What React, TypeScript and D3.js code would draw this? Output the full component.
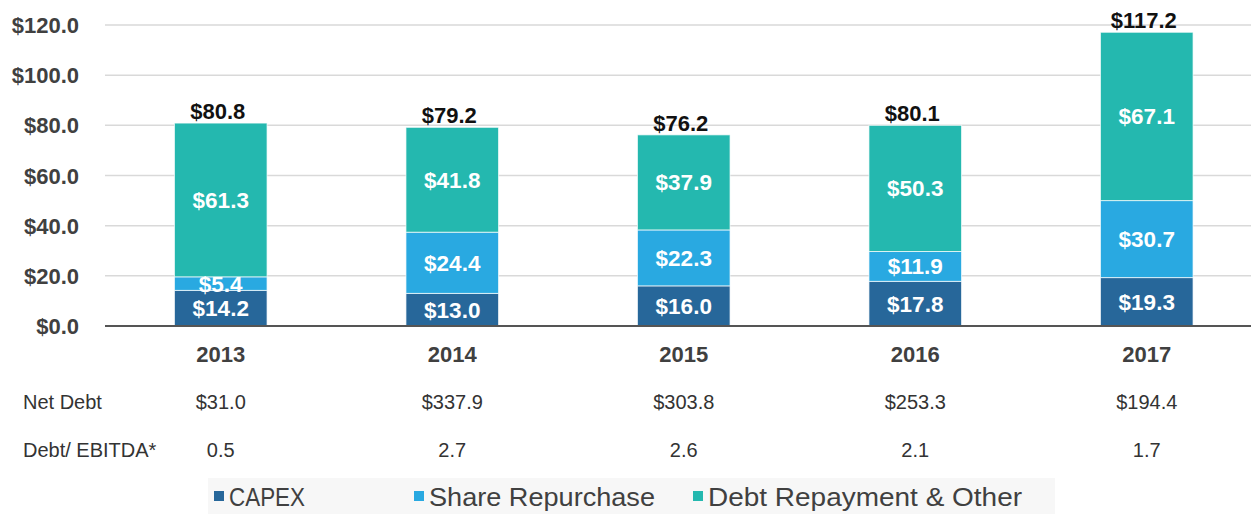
import React from "react";
import * as d3 from "d3";

const years = ["2013", "2014", "2015", "2016", "2017"];
const capex = [14.2, 13.0, 16.0, 17.8, 19.3];
const shareRepurchase = [5.4, 24.4, 22.3, 11.9, 30.7];
const debtRepayment = [61.3, 41.8, 37.9, 50.3, 67.1];
const totals = [80.8, 79.2, 76.2, 80.1, 117.2];
const netDebt = ["$31.0", "$337.9", "$303.8", "$253.3", "$194.4"];
const debtEbitda = ["0.5", "2.7", "2.6", "2.1", "1.7"];
const yTicks = [0, 20, 40, 60, 80, 100, 120];
const seriesNames = ["CAPEX", "Share Repurchase", "Debt Repayment & Other"];
const colors = ["#27679a", "#29a9e1", "#24b8af"];

const W = 1251;
const H = 514;
const FONT = "'Liberation Sans', Arial, sans-serif";

export default function App() {
  const x = d3.scaleBand<string>().domain(years).range([105, 1262.5]).paddingInner(0.6).paddingOuter(0.3);
  const y = d3.scaleLinear().domain([0, 120]).range([326, 25]);

  const rows = years.map((yr, i) => ({ year: yr, capex: capex[i], share: shareRepurchase[i], debt: debtRepayment[i] }));
  const stack = d3.stack<any>().keys(["capex", "share", "debt"])(rows);

  const cx = (yr: string) => (x(yr) as number) + x.bandwidth() / 2;
  const fmt = (v: number) => "$" + v.toFixed(1);

  const legendItems = [
    { name: seriesNames[0], x: 229, w: 76 },
    { name: seriesNames[1], x: 429, w: 226 },
    { name: seriesNames[2], x: 708, w: 314 },
  ];

  return (
    <svg width={W} height={H} style={{ position: "absolute", left: 0, top: 0, background: "#fff" }} fontFamily={FONT}>
      {yTicks.map((t) => (
        <line key={t} x1={105} x2={W} y1={y(t)} y2={y(t)} stroke={t === 0 ? "#555" : "#d9d9d9"} strokeWidth={t === 0 ? 2 : 1.5} />
      ))}
      {yTicks.map((t) => (
        <text key={"l" + t} x={79} y={y(t) + 8} textAnchor="end" fontSize={22} fontWeight="bold" fill="#404040">
          {fmt(t)}
        </text>
      ))}
      {stack.map((s, si) =>
        s.map((d, i) => (
          <rect
            key={si + "-" + i}
            x={x(years[i])}
            width={x.bandwidth()}
            y={y(d[1])}
            height={y(d[0]) - y(d[1])}
            fill={colors[si]}
            stroke="#fff"
            strokeWidth={1}
            strokeOpacity={0.7}
          />
        ))
      )}
      <line x1={105} x2={W} y1={y(0)} y2={y(0)} stroke="#555" strokeWidth={2} />
      {stack.map((s, si) =>
        s.map((d, i) => (
          <text
            key={"sl" + si + "-" + i}
            x={cx(years[i])}
            y={(y(d[0]) + y(d[1])) / 2 + 8}
            textAnchor="middle"
            fontSize={22.5}
            fontWeight="bold"
            fill="#fff"
          >
            {fmt(d[1] - d[0])}
          </text>
        ))
      )}
      {totals.map((t, i) => (
        <text key={"t" + i} x={cx(years[i]) - 3} y={y(t) - 4} textAnchor="middle" fontSize={22} fontWeight="bold" fill="#111">
          {fmt(t)}
        </text>
      ))}
      {years.map((yr) => (
        <text key={"c" + yr} x={cx(yr)} y={362} textAnchor="middle" fontSize={22} fontWeight="bold" fill="#404040">
          {yr}
        </text>
      ))}
      <text x={23} y={409} fontSize={20} fill="#333">Net Debt</text>
      {netDebt.map((v, i) => (
        <text key={"nd" + i} x={cx(years[i])} y={409} textAnchor="middle" fontSize={20} fill="#333">{v}</text>
      ))}
      <text x={23} y={457} fontSize={20} fill="#333">Debt/ EBITDA*</text>
      {debtEbitda.map((v, i) => (
        <text key={"de" + i} x={cx(years[i])} y={457} textAnchor="middle" fontSize={20} fill="#333">{v}</text>
      ))}
      <rect x={208} y={478} width={847} height={36} fill="#f7f7f7" />
      {legendItems.map((it, i) => (
        <g key={"lg" + i}>
          <rect x={it.x - 15} y={491} width={10} height={10} fill={colors[i]} />
          <text x={it.x} y={506} fontSize={26} fill="#404040" textLength={it.w} lengthAdjust="spacingAndGlyphs">{it.name}</text>
        </g>
      ))}
    </svg>
  );
}
